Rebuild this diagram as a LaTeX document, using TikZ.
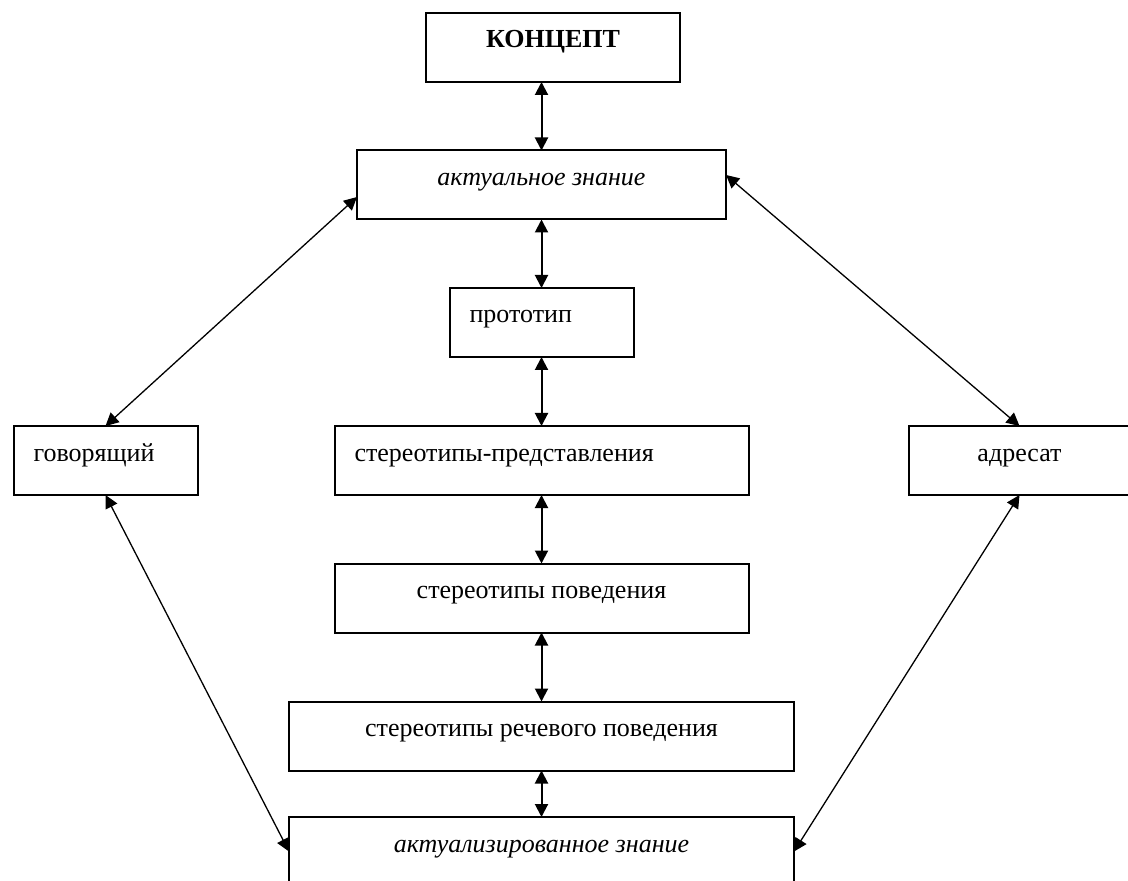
\documentclass[tikz,border=0pt]{standalone}
\usepackage{fontspec}
\setmainfont{Liberation Serif}
\usetikzlibrary{positioning,arrows.meta}

\begin{document}
\begin{tikzpicture}
[x=0.5pt,y=-0.5pt,
 every node/.style={draw=black,line width=1pt,inner sep=0pt,outer sep=0pt,
   text height=17.5pt,text depth=17pt,font=\fontsize{13pt}{15pt}\selectfont},
 mid/.style={rectangle},
 side/.style={rectangle,align=left,inner xsep=10pt},
 link/.style={{Triangle[length=6.5pt,width=6.5pt]}-{Triangle[length=6.5pt,width=6.5pt]},line width=1pt},
 slant/.style={link,line width=0.65pt}]
\useasboundingbox (0,0) rectangle (1128,881);

\node[mid,minimum width=127pt] (konc) at (553,47.5) {\textbf{КОНЦЕПТ}};
\node[mid,minimum width=184.5pt] (aktual) [on grid,below left=68.75pt and 5.75pt of konc] {\textit{актуальное знание}};
\node[side,text width=72pt] (proto) [on grid,below=68.75pt of aktual] {прототип};
\node[side,text width=187pt] (sterpred) [on grid,below=69pt of proto] {стереотипы-представления};
\node[side,text width=72pt] (gov) [on grid,left=218pt of sterpred] {говорящий};
\node[mid,minimum width=111pt] (adres) [on grid,right=239pt of sterpred] {адресат};
\node[mid,minimum width=207pt] (sterpov) [on grid,below=68.75pt of sterpred] {стереотипы поведения};
\node[mid,minimum width=252.5pt] (rech) [on grid,below=69pt of sterpov] {стереотипы речевого поведения};
\node[mid,minimum width=252.5pt] (aktualiz) [on grid,below=57.75pt of rech] {\textit{актуализированное знание}};

\draw[link] (aktual.north |- konc.south) -- (aktual.north);
\draw[link] (aktual.south) -- (proto.north);
\draw[link] (proto.south) -- (sterpred.north);
\draw[link] (sterpred.south) -- (sterpov.north);
\draw[link] (sterpov.south) -- (rech.north);
\draw[link] (rech.south) -- (aktualiz.north);

\draw[slant] ([yshift=-6pt]aktual.west) -- (gov.north);
\draw[slant] ([yshift=5pt]aktual.east) -- (adres.north);
\draw[slant] (gov.south) -- (aktualiz.west);
\draw[slant] (adres.south) -- (aktualiz.east);
\end{tikzpicture}
\end{document}
